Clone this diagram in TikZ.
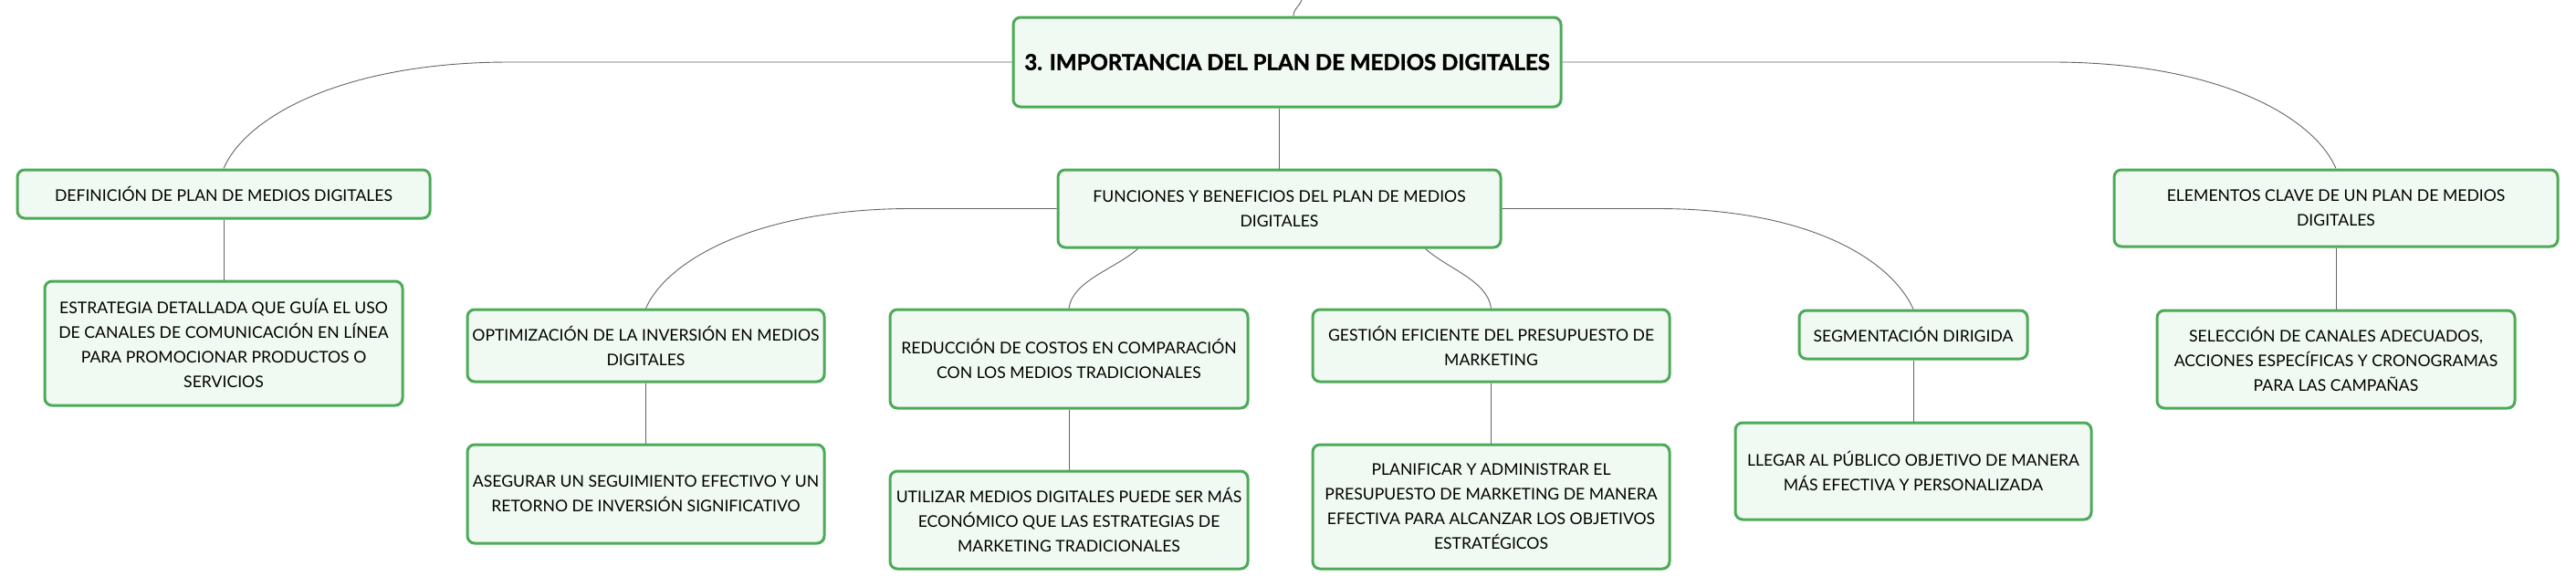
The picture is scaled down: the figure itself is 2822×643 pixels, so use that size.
\documentclass[tikz,border=0pt]{standalone}
\usepackage{fontspec}
\setmainfont{Lato}
\newfontfamily\rootfont{Lato}[BoldFeatures={FakeBold=1.5}]
\usetikzlibrary{calc}

\definecolor{topicgreen}{RGB}{76,170,88}
\definecolor{topicfill}{RGB}{241,250,242}
\definecolor{linegray}{RGB}{100,100,100}

\tikzset{
	topic/.style={draw=topicgreen, fill=topicfill, line width=1.5pt, rounded corners=4pt,
		inner sep=0pt, align=center, font=\fontsize{8.8}{13.5}\selectfont},
	linea/.style={draw=linegray, line width=0.45pt}
}

\begin{document}
\begin{tikzpicture}[x=0.5pt,y=-0.5pt]
			\useasboundingbox (0,0) rectangle (2822,643);
			% central topic
			\node[topic, minimum width=300pt, minimum height=49pt, font=\rootfont\fontsize{12}{14}\selectfont\bfseries] (root) at (1410,68) {3. IMPORTANCIA DEL PLAN DE MEDIOS DIGITALES};
			\coordinate (up) at (1426,0);
			% first level
			\node[topic, minimum width=226pt, minimum height=26.5pt] (def) at (245,212.5) {DEFINICIÓN DE PLAN DE MEDIOS DIGITALES};
			\node[topic, minimum width=242.5pt, minimum height=42.5pt] (fun) at (1401.5,228.5) {FUNCIONES Y BENEFICIOS DEL PLAN DE MEDIOS\\DIGITALES};
			\node[topic, minimum width=243pt, minimum height=42pt] (ele) at (2559,228) {ELEMENTOS CLAVE DE UN PLAN DE MEDIOS\\DIGITALES};
			% second level
			\node[topic, minimum width=196pt, minimum height=68pt] (est) at (245,376) {ESTRATEGIA DETALLADA QUE GUÍA EL USO\\DE CANALES DE COMUNICACIÓN EN LÍNEA\\PARA PROMOCIONAR PRODUCTOS O\\SERVICIOS};
			\node[topic, minimum width=195.5pt, minimum height=39.5pt] (opt) at (707.5,378.5) {OPTIMIZACIÓN DE LA INVERSIÓN EN MEDIOS\\DIGITALES};
			\node[topic, minimum width=196pt, minimum height=54pt] (red) at (1171,393) {REDUCCIÓN DE COSTOS EN COMPARACIÓN\\CON LOS MEDIOS TRADICIONALES};
			\node[topic, minimum width=195.5pt, minimum height=39.5pt] (ges) at (1633.5,378.5) {GESTIÓN EFICIENTE DEL PRESUPUESTO DE\\MARKETING};
			\node[topic, minimum width=125pt, minimum height=26.5pt] (seg) at (2096,366.5) {SEGMENTACIÓN DIRIGIDA};
			\node[topic, minimum width=196pt, minimum height=53.5pt] (sel) at (2559,393.5) {SELECCIÓN DE CANALES ADECUADOS,\\ACCIONES ESPECÍFICAS Y CRONOGRAMAS\\PARA LAS CAMPAÑAS};
			% third level
			\node[topic, minimum width=195.5pt, minimum height=54pt] (ase) at (707.5,541) {ASEGURAR UN SEGUIMIENTO EFECTIVO Y UN\\RETORNO DE INVERSIÓN SIGNIFICATIVO};
			\node[topic, minimum width=196pt, minimum height=53.5pt] (uti) at (1171,569.5) {UTILIZAR MEDIOS DIGITALES PUEDE SER MÁS\\ECONÓMICO QUE LAS ESTRATEGIAS DE\\MARKETING TRADICIONALES};
			\node[topic, minimum width=195.5pt, minimum height=68pt] (pla) at (1633.5,555) {PLANIFICAR Y ADMINISTRAR EL\\PRESUPUESTO DE MARKETING DE MANERA\\EFECTIVA PARA ALCANZAR LOS OBJETIVOS\\ESTRATÉGICOS};
			\node[topic, minimum width=195pt, minimum height=53pt] (lle) at (2096,516) {LLEGAR AL PÚBLICO OBJETIVO DE MANERA\\MÁS EFECTIVA Y PERSONALIZADA};
			% connectors
			\draw[linea] ($(root.north)+(7,0)$) .. controls +(0,-8) and +(-3,8) .. (up);
			\draw[linea] (root.west) -- ++(-550,0) .. controls +(-180,0) and +(25,-58) .. (def.north);
			\draw[linea] (root.east) -- ++(536,0) .. controls +(180,0) and +(-25,-58) .. (ele.north);
			\draw[linea] (fun.north |- root.south) -- (fun.north);
			\draw[linea] (fun.west) -- ++(-159,0) .. controls +(-165,0) and +(25,-55) .. (opt.north);
			\draw[linea] (fun.east) -- ++(170,0) .. controls +(165,0) and +(-25,-55) .. (seg.north);
			\draw[linea] ($(fun.south)+(-155,0)$) .. controls +(-25,22) and +(4,-30) .. (red.north);
			\draw[linea] ($(fun.south)+(160,0)$) .. controls +(25,22) and +(-4,-30) .. (ges.north);
			\draw[linea] (def.south) -- (est.north);
			\draw[linea] (opt.south) -- (ase.north);
			\draw[linea] (red.south) -- (uti.north);
			\draw[linea] (ges.south) -- (pla.north);
			\draw[linea] (seg.south) -- (lle.north);
			\draw[linea] (ele.south) -- (sel.north);
		\end{tikzpicture}
\end{document}
